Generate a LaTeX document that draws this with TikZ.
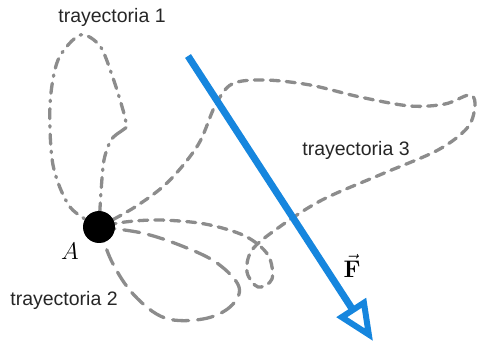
\RequirePackage{fix-cm}
\documentclass[tikz,border=0pt]{standalone}
\usepackage[no-math]{fontspec}
\setmainfont{Liberation Sans}
\usepackage{amsmath}
\usetikzlibrary{arrows.meta}
\definecolor{forceblue}{RGB}{22,134,222}
\definecolor{pathgray}{RGB}{140,140,140}

\begin{document}
\begin{tikzpicture}[x=1pt,y=-1pt,
    tray/.style={draw=pathgray,line width=3.3pt,line cap=round},
    trayone/.style={tray,dash pattern=on 10pt off 7pt on 1.5pt off 7pt},
    traytwo/.style={tray,dash pattern=on 16pt off 9pt},
    traythree/.style={tray,dash pattern=on 9pt off 7pt},
    label/.style={text=black!85,font=\fontsize{19.5}{22}\selectfont},
    mathlabel/.style={font=\fontsize{24}{26}\selectfont},
    force/.style={draw=forceblue,line width=7pt,
                  -{Triangle[open,length=40pt,width=34pt,line width=6pt]}}
  ]
    \useasboundingbox (0,0) rectangle (482,347);
    \coordinate (A) at (99,227);
    \draw[trayone] plot[smooth,tension=0.5] coordinates {(A) (70,207) (53,165)
      (50,105) (58,60) (80,35) (100,46) (113,78) (123,110) (127,127)}
      -- (120,132) plot[smooth,tension=0.5] coordinates {(120,132) (111,140)
      (104,160) (101,192) (A)};
    \draw[traythree] plot[smooth,tension=0.55] coordinates {(A) (135,207)
      (168,182) (198,145) (215,106) (232,84) (265,80) (310,85) (360,97)
      (410,106) (445,104) (469,95) (475,104) (468,127) (438,150) (382,174)
      (322,200) (278,228) (252,250) (247,272) (258,287) (272,279) (268,255)
      (245,236) (205,224) (160,220) (125,222) (A)};
    \draw[traytwo] plot[smooth,tension=0.6] coordinates {(A) (142,233)
      (182,246) (217,263) (239,287) (230,307) (203,319) (165,318) (134,295)
      (112,262) (A)};
    \draw[force] (188,56) coordinate (Fs) -- (373,341) coordinate (Fe);
    \node[circle,fill=black,minimum size=32pt,inner sep=0pt] (Adot) at (A) {};
    \node[mathlabel] (Alabel) at (70,251) {$A$};
    \node[mathlabel] (Flabel) at (352,266) {$\vec{\mathbf{F}}$};
    \node[label] (t1) at (112,17) {trayectoria 1};
    \node[label] (t2) at (64,300) {trayectoria 2};
    \node[label] (t3) at (356,150) {trayectoria 3};
  \end{tikzpicture}
\end{document}
